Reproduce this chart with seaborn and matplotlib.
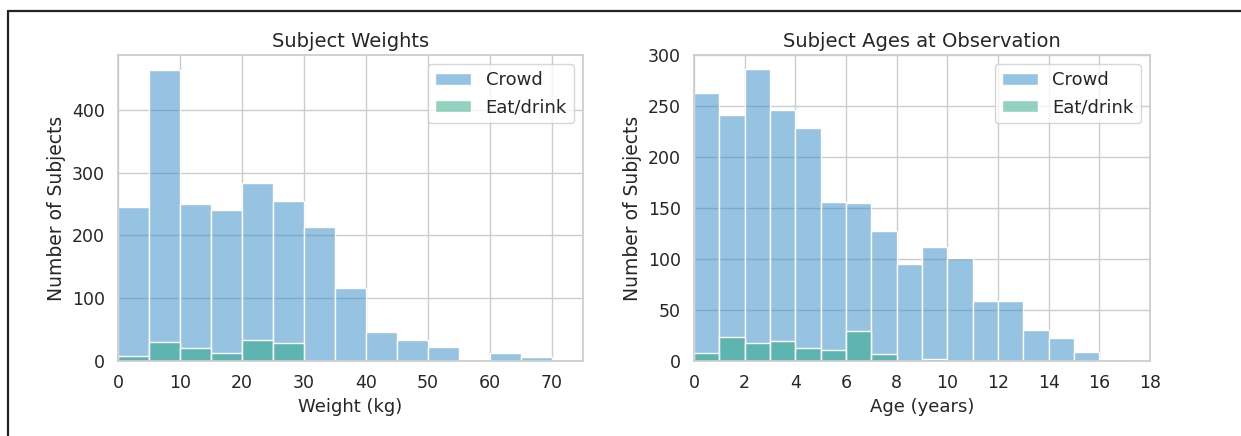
import matplotlib
matplotlib.use('Agg')
import matplotlib.pyplot as plt
import seaborn as sns
import pandas as pd
from matplotlib.lines import Line2D

# bin edges
weight_bins = list(range(0, 80, 5))
age_bins = list(range(0, 19, 1))

# counts per bin
crowd_weight = [245, 464, 250, 241, 284, 255, 213, 116, 46, 34, 22, 2, 12, 6, 1]
eat_weight = [8, 30, 21, 13, 33, 29, 0, 0, 0, 0, 0, 0, 0, 0, 0]

crowd_age = [263, 241, 286, 246, 228, 156, 155, 127, 95, 112, 101, 59, 59, 30, 23, 9, 1, 0]
eat_age = [8, 24, 18, 20, 13, 11, 29, 7, 0, 2, 0, 0, 0, 0, 0, 0, 0, 0]

crowd_color = '#2f89c5'
eat_color = '#27a781'

sns.set_theme(style='whitegrid')
plt.rcParams['font.family'] = ['DejaVu Sans']

fig = plt.figure(figsize=(12.41, 4.36), dpi=100)
ax1 = fig.add_axes([0.0951, 0.172, 0.3747, 0.702])
ax2 = fig.add_axes([0.5592, 0.172, 0.3674, 0.702])


def draw(ax, bins, crowd, eat, title, xlabel):
    mids = [(a + b) / 2 for a, b in zip(bins[:-1], bins[1:])]
    df = pd.DataFrame({'x': mids, 'crowd': crowd, 'eat': eat})
    sns.histplot(data=df, x='x', weights='crowd', bins=bins, color=crowd_color,
                 alpha=0.5, edgecolor='white', linewidth=1, label='Crowd', ax=ax)
    sns.histplot(data=df, x='x', weights='eat', bins=bins, color=eat_color,
                 alpha=0.5, edgecolor='white', linewidth=1, label='Eat/drink', ax=ax)
    ax.set_title(title, fontsize=14)
    ax.set_xlabel(xlabel, fontsize=13)
    ax.set_ylabel('Number of Subjects', fontsize=13.5)
    ax.tick_params(labelsize=12.5)
    ax.set_xlim(bins[0], bins[-1])
    ax.legend(loc='upper right', fontsize=13, frameon=True)


draw(ax1, weight_bins, crowd_weight, eat_weight, 'Subject Weights', 'Weight (kg)')
draw(ax2, age_bins, crowd_age, eat_age, 'Subject Ages at Observation', 'Age (years)')
ax1.set_xticks(range(0, 80, 10))
ax2.set_xticks(range(0, 20, 2))
ax2.set_ylim(0, 300)

# notebook frame
fig.add_artist(Line2D([0.0068, 1.0], [0.975, 0.975], color='#222222', lw=1.6))
fig.add_artist(Line2D([0.0068, 0.0068], [0.0, 0.975], color='#222222', lw=1.6))

fig.savefig('out.png', dpi=100)
